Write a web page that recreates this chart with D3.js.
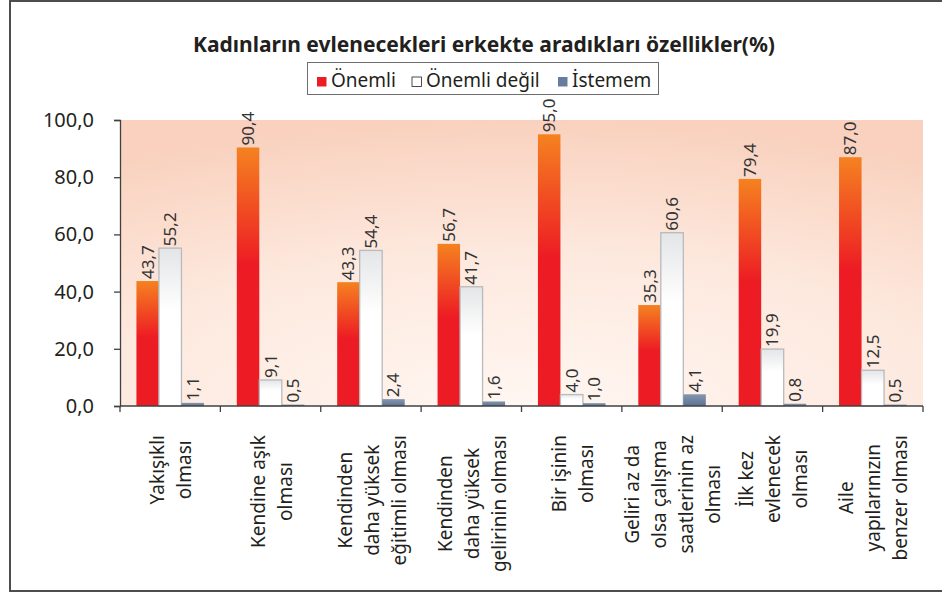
<!DOCTYPE html>
<html>
<head>
<meta charset="utf-8">
<script src="https://cdn.jsdelivr.net/npm/d3@7"></script>
<style>
  body { margin: 0; background: #fff; }
  text { font-family: "Noto Sans", "Open Sans", sans-serif; fill: #231f20; }
</style>
</head>
<body>
<div id="chart"></div>
<script>
// Data
const categories = [
    ["Yakışıklı", "olması"],
    ["Kendine aşık", "olması"],
    ["Kendinden", "daha yüksek", "eğitimli olması"],
    ["Kendinden", "daha yüksek", "gelirinin olması"],
    ["Bir işinin", "olması"],
    ["Geliri az da", "olsa çalışma", "saatlerinin az", "olması"],
    ["İlk kez", "evlenecek", "olması"],
    ["Aile", "yapılarınızın", "benzer olması"]
];
const seriesNames = ["Önemli", "Önemli değil", "İstemem"];
const onemli = [43.7, 90.4, 43.3, 56.7, 95.0, 35.3, 79.4, 87.0];
const onemliDegil = [55.2, 9.1, 54.4, 41.7, 4.0, 60.6, 19.9, 12.5];
const istemem = [1.1, 0.5, 2.4, 1.6, 1.0, 4.1, 0.8, 0.5];
const yTicks = [0, 20, 40, 60, 80, 100];
const titleText = "Kadınların evlenecekleri erkekte aradıkları özellikler(%)";

const series = [onemli, onemliDegil, istemem];

const canvW = 942, canvH = 594;
const margin = {top: 120, right: 19, bottom: 188, left: 120};
const width = canvW - margin.left - margin.right;
const height = canvH - margin.top - margin.bottom;

const svg = d3.select('#chart')
    .append('svg')
    .attr('width', canvW)
    .attr('height', canvH);

// gradients
const defs = svg.append('defs');
const bg = defs.append('radialGradient').attr('id', 'bgGrad')
    .attr('cx', 0.5).attr('cy', 1).attr('r', 1);
bg.append('stop').attr('offset', 0).attr('stop-color', '#fff7f2');
bg.append('stop').attr('offset', 0.55).attr('stop-color', '#fde8dd');
bg.append('stop').attr('offset', 1).attr('stop-color', '#f9d1be');

const redGrad = defs.append('linearGradient').attr('id', 'redGrad')
    .attr('x1', 0).attr('y1', 0).attr('x2', 0).attr('y2', 1);
redGrad.append('stop').attr('offset', 0).attr('stop-color', '#f58220');
redGrad.append('stop').attr('offset', 0.45).attr('stop-color', '#ed1c24');
redGrad.append('stop').attr('offset', 1).attr('stop-color', '#ed1c24');

const whiteGrad = defs.append('linearGradient').attr('id', 'whiteGrad')
    .attr('x1', 0).attr('y1', 0).attr('x2', 0).attr('y2', 1);
whiteGrad.append('stop').attr('offset', 0).attr('stop-color', '#e4e5e7');
whiteGrad.append('stop').attr('offset', 0.4).attr('stop-color', '#ffffff');
whiteGrad.append('stop').attr('offset', 1).attr('stop-color', '#ffffff');

const blueGrad = defs.append('linearGradient').attr('id', 'blueGrad')
    .attr('x1', 0).attr('y1', 0).attr('x2', 0).attr('y2', 1);
blueGrad.append('stop').attr('offset', 0).attr('stop-color', '#8597b0');
blueGrad.append('stop').attr('offset', 1).attr('stop-color', '#5c7293');

const fills = ['url(#redGrad)', 'url(#whiteGrad)', 'url(#blueGrad)'];
const legendColors = ['#ed1c24', '#ffffff', '#667ca0'];

// outer frame
svg.append('rect')
    .attr('x', 10).attr('y', 1)
    .attr('width', 940).attr('height', 590)
    .attr('fill', 'none')
    .attr('stroke', '#4d4d4d')
    .attr('stroke-width', 2);

// title
svg.append('text')
    .attr('x', 484).attr('y', 52)
    .attr('text-anchor', 'middle')
    .style('font-size', '21px')
    .style('font-weight', 'bold')
    .text(titleText);

// legend
const legend = svg.append('g');
legend.append('rect')
    .attr('x', 307.5).attr('y', 62.5)
    .attr('width', 351).attr('height', 32)
    .attr('fill', '#fff')
    .attr('stroke', '#6d6e71');
const legendX = [317, 412, 558];
seriesNames.forEach((name, i) => {
    legend.append('rect')
        .attr('x', legendX[i]).attr('y', 77)
        .attr('width', 9.5).attr('height', 9.5)
        .attr('fill', legendColors[i])
        .attr('stroke', i === 1 ? '#231f20' : 'none')
        .attr('stroke-width', 0.8);
    legend.append('text')
        .attr('x', legendX[i] + 14).attr('y', 86.5)
        .style('font-size', '19px')
        .text(name);
});

const g = svg.append('g')
    .attr('transform', `translate(${margin.left},${margin.top})`);

// scales
const x0 = d3.scaleBand()
    .domain(d3.range(categories.length))
    .range([0, width]);
const x1 = d3.scaleBand()
    .domain(d3.range(series.length))
    .range([0, x0.bandwidth()])
    .paddingOuter(0.73);
const y = d3.scaleLinear()
    .domain([0, 100])
    .range([height, 0]);

// plot background
g.append('rect')
    .attr('width', width).attr('height', height)
    .attr('fill', 'url(#bgGrad)');

// bars
const groups = g.selectAll('g.cat')
    .data(categories.map((c, i) => i))
    .join('g')
    .attr('class', 'cat')
    .attr('transform', i => `translate(${x0(i)},0)`);

groups.selectAll('rect.bar')
    .data(i => series.map((s, k) => ({k: k, v: s[i]})))
    .join('rect')
    .attr('class', 'bar')
    .attr('x', d => x1(d.k))
    .attr('y', d => y(d.v))
    .attr('width', x1.bandwidth())
    .attr('height', d => height - y(d.v))
    .attr('fill', d => fills[d.k])
    .attr('stroke', d => d.k === 1 ? '#b8babd' : 'none')
    .attr('stroke-width', 1.3);

// value labels
groups.selectAll('text.val')
    .data(i => series.map((s, k) => ({k: k, v: s[i]})))
    .join('text')
    .attr('class', 'val')
    .attr('transform', d => `translate(${x1(d.k) + x1.bandwidth() / 2},${y(d.v) - 2}) rotate(-90)`)
    .attr('dy', '0.35em')
    .style('font-size', '17px')
    .style('fill', '#333')
    .text(d => d.v.toFixed(1).replace('.', ','));

// y axis
const yAxis = g.append('g')
    .call(d3.axisLeft(y)
        .tickValues(yTicks)
        .tickSize(6)
        .tickPadding(20)
        .tickFormat(d => d.toFixed(1).replace('.', ',')));
yAxis.select('.domain').attr('stroke', '#404040').attr('stroke-width', 1.3);
yAxis.selectAll('.tick line').attr('stroke', '#404040').attr('stroke-width', 1.3);
yAxis.selectAll('.tick text')
    .style('font-size', '20px')
    .style('font-family', '"Noto Sans", sans-serif')
    .attr('fill', '#231f20');

// x axis line and ticks at category boundaries
g.append('line')
    .attr('x1', 0).attr('x2', width)
    .attr('y1', height).attr('y2', height)
    .attr('stroke', '#404040').attr('stroke-width', 1.3);
g.selectAll('line.xtick')
    .data(d3.range(categories.length + 1))
    .join('line')
    .attr('class', 'xtick')
    .attr('x1', i => i * x0.step()).attr('x2', i => i * x0.step())
    .attr('y1', height).attr('y2', height + 6)
    .attr('stroke', '#404040').attr('stroke-width', 1.3);

// category labels, rotated, multiline
const lineGap = 27;
const labelTop = height + 29;
categories.forEach((lines, i) => {
    const lab = g.append('g');
    const texts = lines.map((t, j) => lab.append('text')
        .attr('text-anchor', 'middle')
        .attr('dy', '0.35em')
        .attr('y', (j - (lines.length - 1) / 2) * lineGap)
        .style('font-size', '19px')
        .text(t));
    const maxLen = d3.max(texts, t => t.node().getComputedTextLength());
    lab.attr('transform', `translate(${x0(i) + x0.bandwidth() / 2 + 1},${labelTop + maxLen / 2}) rotate(-90)`);
});
</script>
</body>
</html>
